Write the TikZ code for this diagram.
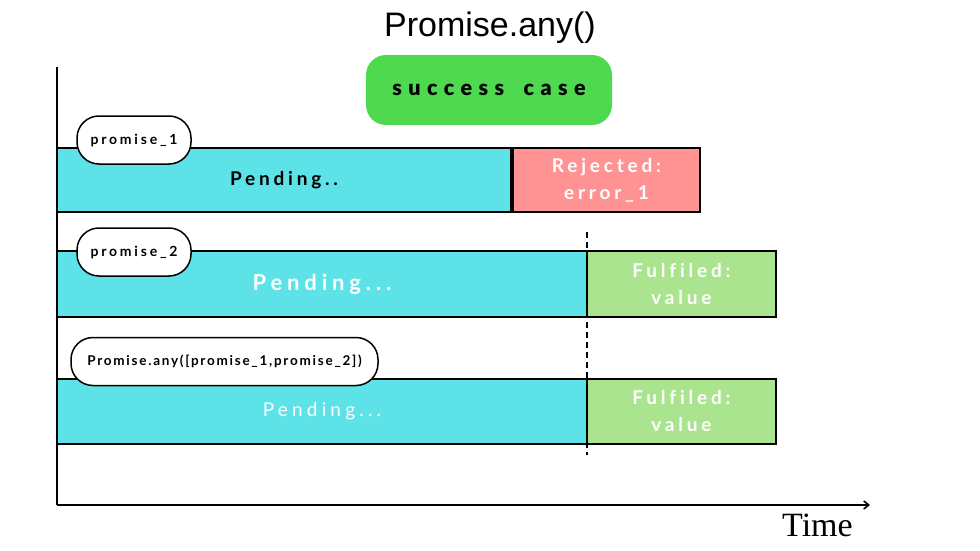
\documentclass[tikz,border=0pt]{standalone}
\usepackage{fontspec}
\setmainfont{Liberation Sans}
\newfontfamily\titlefont{Liberation Sans}
\newfontfamily\timefont{Liberation Serif}
\newfontfamily\spaced[LetterSpace=22,Ligatures=NoCommon]{Lato}
\newfontfamily\spacedm[LetterSpace=20,Ligatures=NoCommon]{Lato Bold}
\newfontfamily\spacedb[LetterSpace=22,Ligatures=NoCommon]{Lato Bold}
\newfontfamily\casefont[LetterSpace=30,Ligatures=NoCommon]{Lato Black}
\newfontfamily\pillfont[LetterSpace=20,Ligatures=NoCommon]{Lato Bold}
\newfontfamily\pillfontn[LetterSpace=13,Ligatures=NoCommon]{Lato Bold}
\usetikzlibrary{arrows.meta}
\definecolor{cyanbox}{HTML}{5DE2E7}
\definecolor{redbox}{HTML}{FF9393}
\definecolor{greenbox}{HTML}{ABE48F}
\definecolor{brightgreen}{HTML}{4ED94E}
\tikzset{
  bar/.style={draw=black, line width=1.8pt, minimum width=#1, inner sep=0pt, align=center},
  pill/.style={draw=black, fill=white, line width=1.5pt, rounded corners=22pt, minimum height=48pt, inner sep=0pt},
  axis/.style={line width=1.6pt},
}
\begin{document}
\begin{tikzpicture}[x=1pt,y=-1pt]
\useasboundingbox (0,0) rectangle (980,551);
% title
\node[font=\titlefont\fontsize{34}{40}\selectfont] (title) at (490,28) {Promise.any()};
\node[fill=brightgreen, rounded corners=20pt, minimum width=246pt, minimum height=70pt, inner sep=0pt,
      font=\casefont\fontsize{21.5}{25}\selectfont] (case) at (489,90) {success\hspace{8pt} case};
% axes
\coordinate (ytop) at (57,67);
\coordinate (origin) at (57,505);
\coordinate (xend) at (870,505);
\draw[axis] (ytop) -- (origin);
\draw[axis, -{Straight Barb[length=5pt,width=8pt]}] (origin) -- (xend);
\node[anchor=north west, font=\timefont\fontsize{34}{40}\selectfont, inner sep=0pt] (time) at (782,514) {Time};
% row 1
\node[bar=454pt, minimum height=64pt, fill=cyanbox, font=\spacedm\fontsize{19}{23}\selectfont] (p1) at (284,180) {Pending..};
\node[bar=187pt, minimum height=64pt, fill=redbox, text=white, font=\spacedm\fontsize{19}{27}\selectfont] (r1) at (606.5,180) {Rejected:\\error\_1};
% row 2
\node[bar=530pt, minimum height=66pt, fill=cyanbox, text=white, font=\spacedb\fontsize{22}{26}\selectfont] (p2) at (322,284) {Pending...};
\node[bar=189pt, minimum height=66pt, fill=greenbox, text=white, font=\spacedm\fontsize{19}{27}\selectfont] (f2) at (681.5,284) {Fulfiled:\\value};
% row 3
\node[bar=530pt, minimum height=65pt, fill=cyanbox, text=white, font=\spaced\fontsize{19}{23}\selectfont] (p3) at (322,411.5) {Pending...};
\node[bar=189pt, minimum height=65pt, fill=greenbox, text=white, font=\spacedm\fontsize{19}{27}\selectfont] (f3) at (681.5,411.5) {Fulfiled:\\value};
% dashed marker
\coordinate (dtop) at (587,232);
\coordinate (dbot) at (587,455);
\draw[line width=1.5pt, dash pattern=on 6pt off 4pt] (dtop) -- (dbot);
% pills
\node[pill, minimum width=114pt, font=\pillfont\fontsize{14}{17}\selectfont] (l1) at (134,140) {promise\_1};
\node[pill, minimum width=114pt, font=\pillfont\fontsize{14}{17}\selectfont] (l2) at (134,252) {promise\_2};
\node[pill, minimum width=307pt, font=\pillfontn\fontsize{13.5}{16}\selectfont] (l3) at (224.5,361.5) {Promise.any([promise\_1,promise\_2])};
\end{tikzpicture}
\end{document}
